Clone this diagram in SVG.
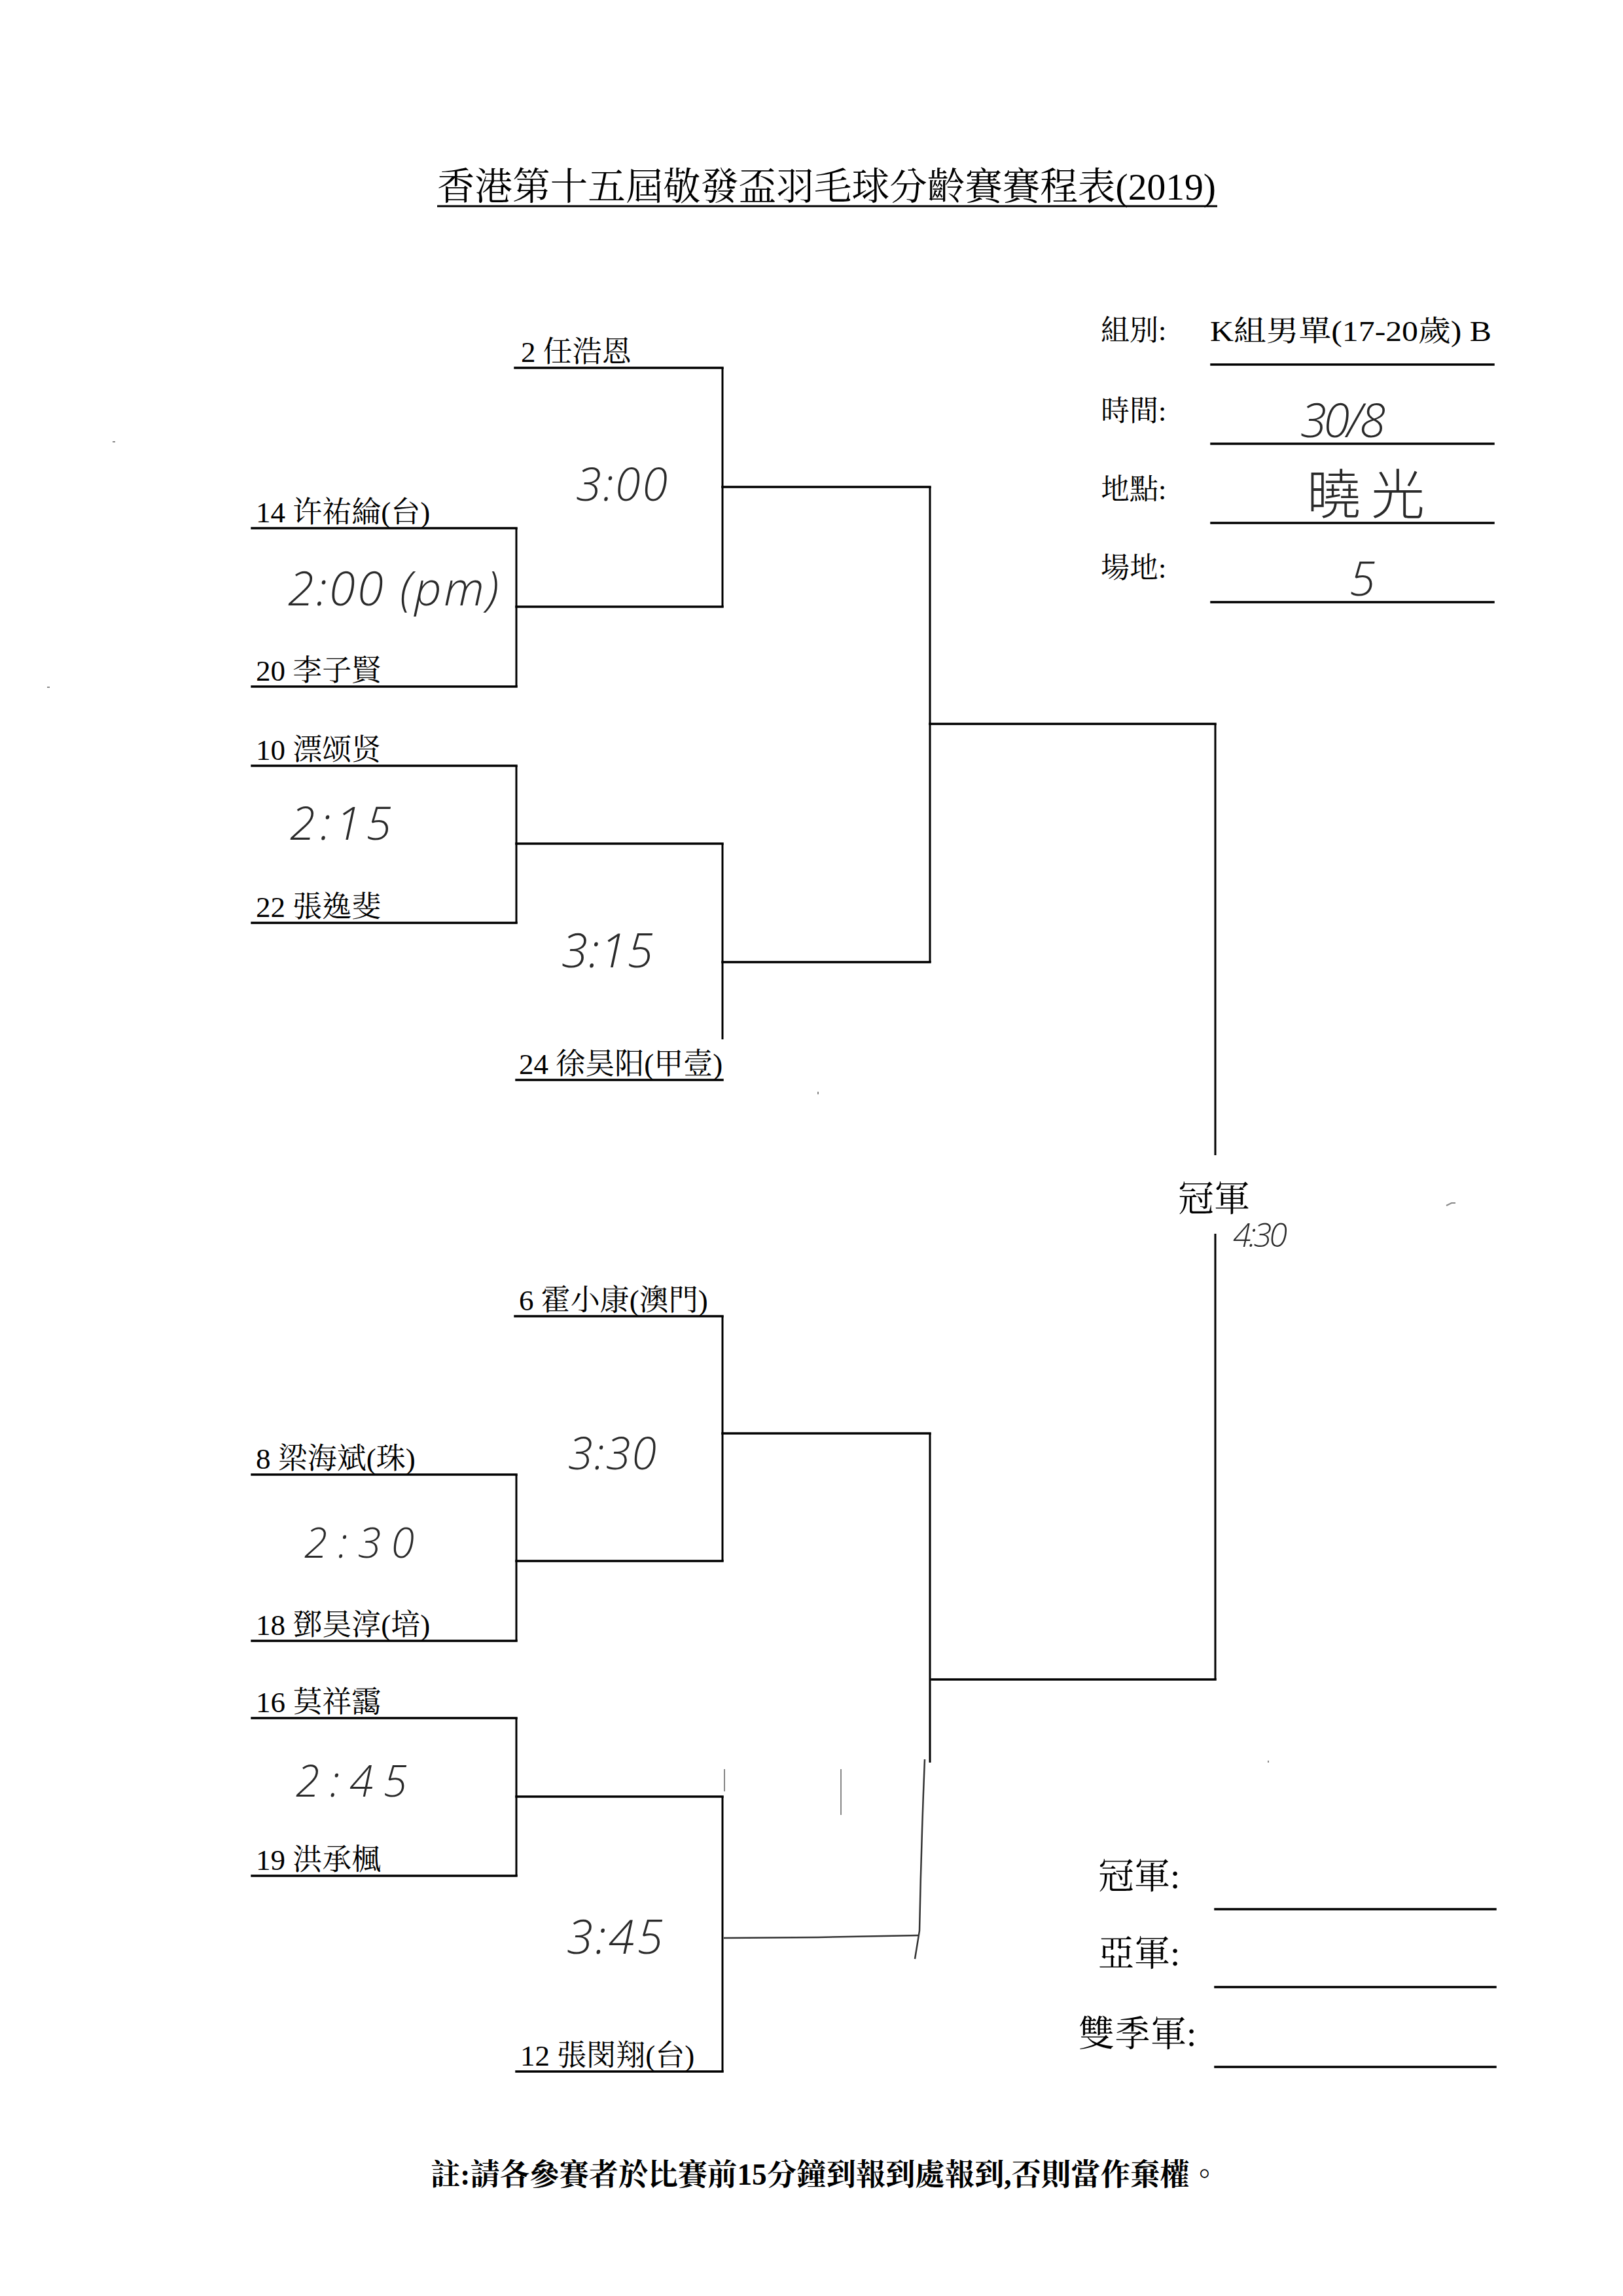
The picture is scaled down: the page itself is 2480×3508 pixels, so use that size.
<svg xmlns="http://www.w3.org/2000/svg" width="2480" height="3508" viewBox="0 0 2480 3508">
<style>
.bg{fill:#fff}
.ln{stroke:#000;stroke-width:3.5;fill:none;stroke-linecap:square}
.vl{stroke:#000;stroke-width:3;fill:none}
.nm{font-family:"Liberation Serif","Noto Serif CJK TC","Noto Sans CJK TC",serif;font-size:45px;fill:#000}
.lb{font-family:"Liberation Serif","Noto Serif CJK TC","Noto Sans CJK TC",serif;font-size:44px;fill:#000}
.big{font-family:"Liberation Serif","Noto Serif CJK TC","Noto Sans CJK TC",serif;font-size:55px;fill:#000}
.hw{font-family:"Open Sans","DejaVu Sans",sans-serif;font-style:italic;font-weight:300;fill:#2a2a2a}
.hwc{font-family:"Noto Sans CJK TC",sans-serif;font-weight:300;fill:#2a2a2a}
.hand{stroke:#333;stroke-width:2.5;fill:none}
.speck{stroke:#888;stroke-width:2;fill:none}
</style>
<rect class="bg" x="0" y="0" width="2480" height="3508"/>

<g id="title">
<text x="668" y="305" font-family="Liberation Serif,'Noto Serif CJK TC','Noto Sans CJK TC',serif" font-size="58" textLength="1190" lengthAdjust="spacingAndGlyphs">香港第十五屆敬發盃羽毛球分齡賽賽程表(2019)</text>
<line x1="668" y1="315" x2="1860" y2="315" stroke="#000" stroke-width="3"/>
</g>

<g id="info">
<text class="lb" x="1682" y="520">組別:</text>
<text class="lb" x="1849" y="521" font-size="54" textLength="430" lengthAdjust="spacingAndGlyphs">K組男單(17-20歲) B</text>
<line class="ln" x1="1851" y1="557" x2="2282" y2="557"/>
<text class="lb" x="1682" y="643">時間:</text>
<text class="hw" x="1987" y="668" font-size="72" textLength="130">30/8</text>
<line class="ln" x1="1851" y1="678" x2="2282" y2="678"/>
<text class="lb" x="1682" y="763">地點:</text>
<text class="hwc" x="1997" y="785" font-size="82" textLength="180">曉光</text>
<line class="ln" x1="1851" y1="799" x2="2282" y2="799"/>
<text class="lb" x="1682" y="883">場地:</text>
<text class="hw" x="2062" y="910" font-size="72">5</text>
<line class="ln" x1="1851" y1="920" x2="2282" y2="920"/>
</g>

<g id="p2"><text class="nm" x="796" y="553">2 任浩恩</text><line class="ln" x1="787" y1="562" x2="1104" y2="562"/></g>
<g id="p14"><text class="nm" x="391" y="798">14 许祐綸(台)</text><line class="ln" x1="385" y1="807" x2="789" y2="807"/></g>
<g id="p20"><text class="nm" x="391" y="1040">20 李子賢</text><line class="ln" x1="385" y1="1049" x2="789" y2="1049"/></g>
<g id="p10"><text class="nm" x="391" y="1161">10 漂颂贤</text><line class="ln" x1="385" y1="1170" x2="789" y2="1170"/></g>
<g id="p22"><text class="nm" x="391" y="1401">22 張逸斐</text><line class="ln" x1="385" y1="1410" x2="789" y2="1410"/></g>
<g id="p24"><text class="nm" x="793" y="1641">24 徐昊阳(甲壹)</text><line class="ln" x1="789" y1="1650" x2="1104" y2="1650"/></g>
<g id="p6"><text class="nm" x="793" y="2002">6 霍小康(澳門)</text><line class="ln" x1="787" y1="2011" x2="1104" y2="2011"/></g>
<g id="p8"><text class="nm" x="391" y="2244">8 梁海斌(珠)</text><line class="ln" x1="385" y1="2253" x2="789" y2="2253"/></g>
<g id="p18"><text class="nm" x="391" y="2498">18 鄧昊淳(培)</text><line class="ln" x1="385" y1="2507" x2="789" y2="2507"/></g>
<g id="p16"><text class="nm" x="391" y="2616">16 莫祥靄</text><line class="ln" x1="385" y1="2625" x2="789" y2="2625"/></g>
<g id="p19"><text class="nm" x="391" y="2857">19 洪承楓</text><line class="ln" x1="385" y1="2866" x2="789" y2="2866"/></g>
<g id="p12"><text class="nm" x="795" y="3156">12 張閔翔(台)</text><line class="ln" x1="789" y1="3165" x2="1104" y2="3165"/></g>

<g id="champion"><text class="big" x="1800" y="1850">冠軍</text></g>

<g id="connectors">
<path class="vl" d="M789 807V1049"/>
<path class="ln" d="M789 927H1104"/>
<path class="vl" d="M1104 562V927"/>
<path class="ln" d="M1104 744H1421"/>
<path class="vl" d="M789 1170V1410"/>
<path class="ln" d="M789 1289H1104"/>
<path class="vl" d="M1104 1289V1588"/>
<path class="ln" d="M1104 1470H1421"/>
<path class="vl" d="M1421 744V1470"/>
<path class="ln" d="M1421 1106H1857"/>
<path class="vl" d="M1857 1106V1765"/>
<path class="vl" d="M1857 1885V2566"/>
<path class="ln" d="M1424 2566H1857"/>
<path class="vl" d="M1104 2011V2385"/>
<path class="vl" d="M789 2253V2507"/>
<path class="ln" d="M789 2385H1104"/>
<path class="ln" d="M1104 2190H1421"/>
<path class="vl" d="M1421 2190V2693"/>
<path class="vl" d="M789 2625V2866"/>
<path class="ln" d="M789 2745H1104"/>
<path class="vl" d="M1104 2745V3165"/>
<path class="hand" d="M1106 2961 L1250 2960 L1404 2957"/>
<path class="hand" d="M1413 2688 C1410 2760 1407 2850 1405 2950 L1398 2993"/>
</g>

<g id="times">
<text class="hw" x="880" y="765" font-size="70" textLength="140">3:00</text>
<text class="hw" x="440" y="925" font-size="72" textLength="322">2:00 (pm)</text>
<text class="hw" x="443" y="1283" font-size="70" textLength="155">2:15</text>
<text class="hw" x="858" y="1478" font-size="72" textLength="140">3:15</text>
<text class="hw" x="1884" y="1905" font-size="50" textLength="83">4:30</text>
<text class="hw" x="868" y="2245" font-size="68" textLength="135">3:30</text>
<text class="hw" x="465" y="2380" font-size="64" textLength="168">2:30</text>
<text class="hw" x="452" y="2745" font-size="66" textLength="170">2:45</text>
<text class="hw" x="866" y="2985" font-size="72" textLength="147">3:45</text>
</g>

<g id="results">
<text class="big" x="1678" y="2885">冠軍:</text>
<line class="ln" x1="1857" y1="2917" x2="2285" y2="2917"/>
<text class="big" x="1678" y="3003">亞軍:</text>
<line class="ln" x1="1857" y1="3036" x2="2285" y2="3036"/>
<text class="big" x="1648" y="3126">雙季軍:</text>
<line class="ln" x1="1857" y1="3158" x2="2285" y2="3158"/>
</g>

<g id="note">
<text x="658" y="3338" font-family="Liberation Serif,'Noto Serif CJK TC','Noto Sans CJK TC',serif" font-size="46" font-weight="bold" textLength="1205" lengthAdjust="spacingAndGlyphs">註:請各參賽者於比賽前15分鐘到報到處報到,否則當作棄權。</text>
</g>

<g id="specks">
<path class="speck" d="M172 675h4"/>
<path class="speck" d="M72 1050h4"/>
<path class="speck" d="M1250 1668v4"/>
<path class="speck" d="M2210 1842 l8 -4 h6"/>
<path class="speck" d="M1938 2690v3"/>
<path class="speck" d="M1285 2703v70" stroke="#d0d0d0"/>
<path class="speck" d="M1107 2703v34" stroke="#d8d8d8"/>
</g>
</svg>
